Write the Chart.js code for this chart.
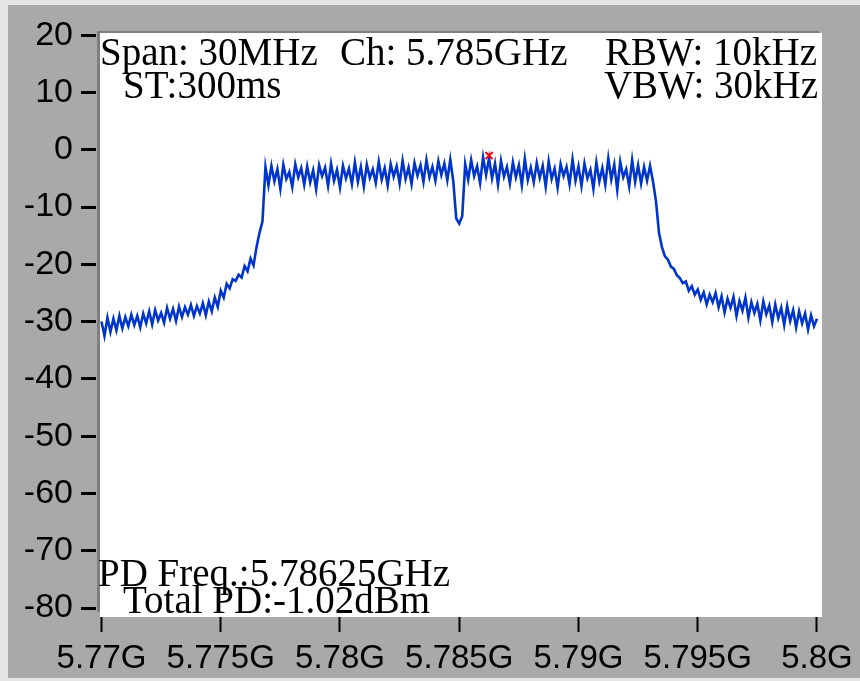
<!DOCTYPE html>
<html>
<head>
<meta charset="utf-8">
<script src="https://cdn.jsdelivr.net/npm/chart.js@4.4.1/dist/chart.umd.min.js"></script>
<style>
  body { margin: 0; background: #e4e4e4; }
  canvas { display: block; }
</style>
</head>
<body>
<canvas id="spectrum" width="860" height="681"></canvas>
<script>
// trace: one reading every 0.125 MHz from 5.77 GHz to 5.80 GHz
const freqStart = 5.77;
const freqStep = 0.000125;
const level = [
  -30.0, -32.5, -29.3, -31.8, -29.5, -31.5, -29.0, -31.2, -29.2, -30.8,
  -28.8, -30.6, -29.0, -31.0, -28.6, -30.3, -28.2, -30.5, -28.0, -29.8,
  -28.5, -30.2, -27.6, -29.5, -27.8, -29.9, -27.4, -29.2, -27.5, -28.8,
  -27.1, -29.0, -27.3, -28.6, -26.8, -28.9, -26.5, -28.2, -25.8, -27.4,
  -24.6, -25.8, -23.4, -24.2, -22.6, -22.9, -21.8, -22.3, -20.3, -21.2,
  -19.0, -20.2, -17.0, -14.5, -12.5, -3.0, -6.2, -2.8, -5.5, -3.4,
  -6.8, -2.6, -5.1, -3.9, -6.5, -2.5, -4.8, -3.2, -6.1, -2.9,
  -5.7, -3.6, -6.9, -2.7, -4.6, -3.1, -6.3, -2.4, -5.4, -3.5,
  -6.6, -2.8, -5.0, -3.3, -6.0, -2.2, -5.6, -3.0, -6.4, -2.6,
  -4.9, -3.4, -5.8, -2.1, -5.2, -3.2, -6.2, -2.5, -4.7, -2.9,
  -5.9, -1.9, -5.1, -3.1, -6.0, -2.3, -4.5, -2.7, -5.6, -1.8,
  -4.8, -3.0, -5.4, -2.0, -4.4, -2.4, -5.3, -1.7, -5.5, -12.0,
  -12.9, -11.6, -2.5, -5.2, -1.8, -4.6, -2.9, -5.8, -1.3, -4.4,
  -1.5, -5.0, -2.4, -6.1, -1.9, -4.7, -3.0, -5.9, -2.2, -4.8,
  -2.7, -6.2, -1.6, -5.3, -3.1, -5.7, -2.3, -4.9, -2.8, -6.4,
  -2.0, -5.1, -3.3, -6.6, -2.5, -4.6, -3.0, -6.0, -1.7, -5.4,
  -2.9, -6.3, -2.4, -5.0, -3.5, -6.8, -2.2, -5.5, -3.2, -6.1,
  -1.5, -5.2, -2.6, -7.0, -2.1, -4.8, -3.4, -6.4, -1.8, -5.6,
  -2.7, -5.9, -3.0, -5.4, -2.8, -5.6, -9.0, -14.5, -17.0, -18.6,
  -19.2, -20.4, -20.8, -21.9, -22.4, -23.3, -23.0, -24.6, -23.8, -25.3,
  -24.4, -26.2, -24.9, -27.0, -25.3, -26.6, -25.0, -27.5, -25.6, -28.4,
  -26.0, -27.6, -25.7, -29.0, -26.4, -28.1, -25.8, -29.3, -26.6, -28.5,
  -26.9, -29.8, -26.5, -28.7, -27.2, -30.1, -27.0, -29.4, -27.6, -30.6,
  -27.3, -29.9, -28.0, -31.0, -28.2, -30.3, -28.6, -31.4, -28.9, -30.8,
  -29.5
];

// peak marker
const markerFreq = 5.78625;
const markerLevel = -1.02;

const xTicks = [5.77, 5.775, 5.78, 5.785, 5.79, 5.795, 5.8];
const xTickLabels = ["5.77G", "5.775G", "5.78G", "5.785G", "5.79G", "5.795G", "5.8G"];
const yTicks = [20, 10, 0, -10, -20, -30, -40, -50, -60, -70, -80];

const topLeftText = ["Span: 30MHz", "ST:300ms"];
const channelText = "Ch: 5.785GHz";
const topRightText = ["RBW: 10kHz", "VBW: 30kHz"];
const bottomText = ["PD Freq.:5.78625GHz", "Total PD:-1.02dBm"];

const tracePoints = level.map((v, i) => ({ x: freqStart + i * freqStep, y: v }));

const panel = {
  id: "panel",
  beforeDraw(chart) {
    const ctx = chart.ctx;
    const a = chart.chartArea;
    ctx.save();
    ctx.fillStyle = "#e4e4e4";
    ctx.fillRect(0, 0, chart.width, chart.height);
    ctx.fillStyle = "#a9a9a9";
    ctx.fillRect(8, 5, chart.width - 8, chart.height - 8);
    ctx.fillStyle = "#ffffff";
    ctx.fillRect(a.left, a.top, a.right - a.left, a.bottom - a.top);
    ctx.restore();
  },
  afterDatasetsDraw(chart) {
    const ctx = chart.ctx;
    const a = chart.chartArea;
    ctx.save();
    ctx.fillStyle = "#a9a9a9";
    ctx.fillRect(a.left - 4, a.top, 1, a.bottom - a.top);
    ctx.fillStyle = "#7f7f7f";
    ctx.fillRect(a.left - 3, a.top - 2, a.right - a.left, 2);
    ctx.fillRect(a.left - 3, a.top - 2, 3, a.bottom - a.top - 3);

    ctx.fillStyle = "#000000";
    ctx.font = "39px 'Liberation Serif'";
    ctx.textBaseline = "alphabetic";
    ctx.textAlign = "left";
    ctx.fillText(topLeftText[0], 100, 65);
    ctx.fillText(channelText, 340, 65);
    ctx.fillText(topLeftText[1], 123, 98);
    ctx.fillText(bottomText[0], 98, 586);
    ctx.fillText(bottomText[1], 123, 613);
    ctx.textAlign = "right";
    ctx.fillText(topRightText[0], 817, 65);
    ctx.fillText(topRightText[1], 818, 98);
    ctx.restore();
  }
};

new Chart(document.getElementById("spectrum"), {
  type: "line",
  data: {
    datasets: [
      {
        type: "scatter",
        data: [{ x: markerFreq, y: markerLevel }],
        pointStyle: "crossRot",
        pointRadius: 5,
        pointBorderColor: "#ff0000",
        pointBorderWidth: 2,
        showLine: false,
      },
      {
        data: tracePoints,
        borderColor: "#0035cc",
        borderWidth: 2.6,
        tension: 0,
        pointRadius: 0,
        fill: false,
      },
    ],
  },
  options: {
    responsive: false,
    devicePixelRatio: 1,
    animation: false,
    layout: { padding: { top: 33, right: 35, left: 0, bottom: 0 } },
    plugins: {
      legend: { display: false },
      tooltip: { enabled: false },
    },
    scales: {
      x: {
        type: "linear",
        min: 5.7699374,
        max: 5.800209,
        afterBuildTicks: (s) => { s.ticks = xTicks.map((v) => ({ value: v })); },
        afterFit: (s) => { s.height = 64; },
        border: { display: false },
        grid: {
          drawOnChartArea: false,
          tickLength: 15,
          tickWidth: 2,
          tickColor: "#000000",
        },
        ticks: {
          autoSkip: false,
          maxRotation: 0,
          padding: 7,
          color: "#000000",
          font: { family: "'Liberation Sans'", size: 33 },
          callback: (v) => xTickLabels[xTicks.indexOf(v)],
        },
      },
      y: {
        min: -81.57,
        max: 20.38,
        afterBuildTicks: (s) => { s.ticks = yTicks.map((v) => ({ value: v })); },
        afterFit: (s) => { s.width = 100; },
        border: { display: false },
        grid: {
          drawOnChartArea: false,
          tickLength: 19,
          tickWidth: 3,
          tickColor: "#000000",
        },
        ticks: {
          padding: 8,
          color: "#000000",
          font: { family: "'Liberation Sans'", size: 34 },
        },
      },
    },
  },
  plugins: [panel],
});
</script>
</body>
</html>
